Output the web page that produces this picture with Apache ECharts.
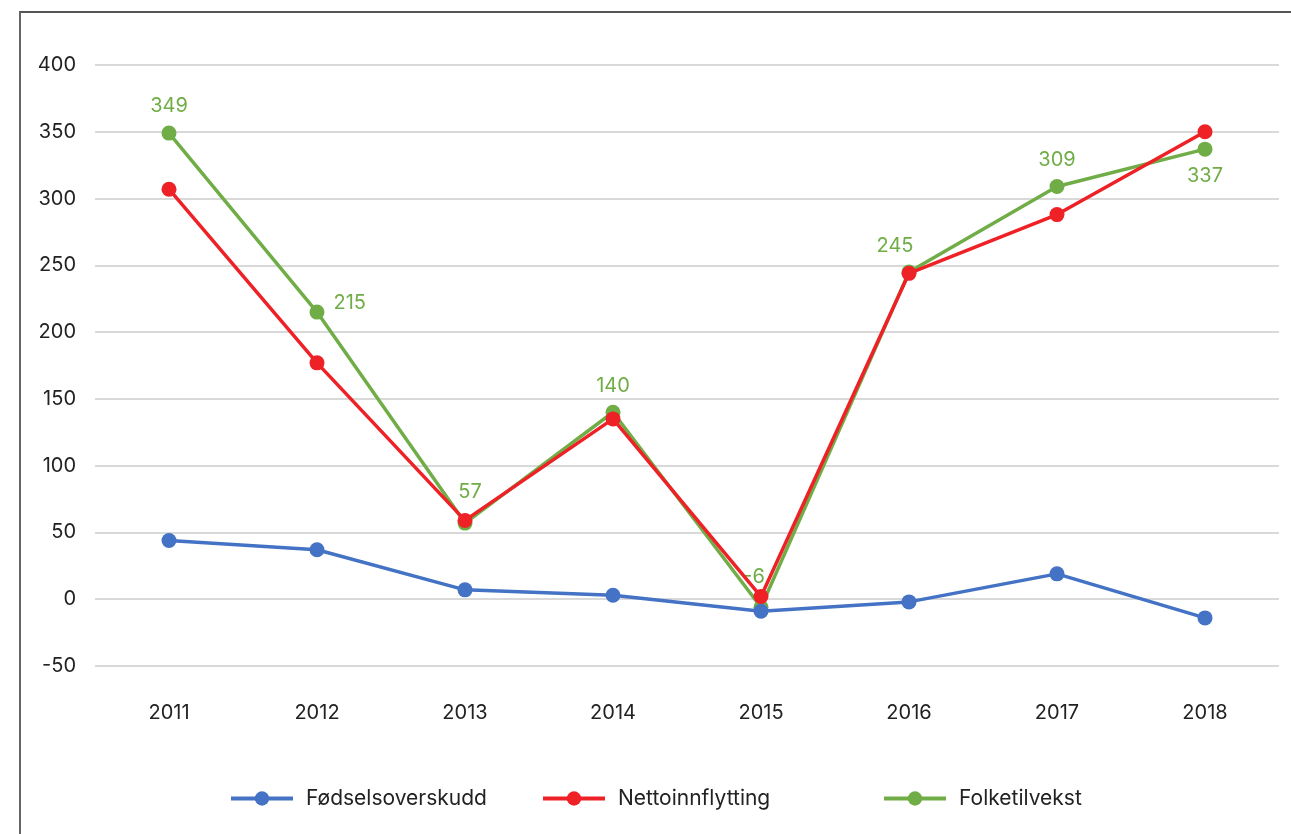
<!DOCTYPE html>
<html>
<head>
<meta charset="utf-8">
<script src="https://cdn.jsdelivr.net/npm/echarts@6/dist/echarts.min.js"></script>
<style>
  html, body { margin: 0; padding: 0; background: #fff; overflow: hidden; }
  #frame { position: absolute; left: 19px; top: 11px; width: 1400px; height: 900px;
           border-top: 2px solid #555; border-left: 2px solid #666; }
  #chart { position: absolute; left: 0; top: 0; width: 1291px; height: 834px; }
</style>
</head>
<body>
<div id="frame"></div>
<div id="chart"></div>
<script>
var years = ['2011', '2012', '2013', '2014', '2015', '2016', '2017', '2018'];
var fodsel = [44, 37, 7, 3, -9, -2, 19, -14];
var netto = [307, 177, 59, 135, 2, 244, 288, 350];
var folke = [349, 215, 57, 140, -6, 245, 309, 337];
var labelPos = ['top', 'right', 'top', 'top', 'top', 'top', 'top', 'bottom'];
var labelShift = [[0, -1], [0, -9], [5, -5], [0, 0], [-7, -4], [-14, 0], [0, 0], [0, 0]];

var font = 'Inter';
var blue = '#4472C4', red = '#EE2127', green = '#70AD47';

var chart = echarts.init(document.getElementById('chart'));

var folkeData = folke.map(function (v, i) {
    return { value: v, label: { position: labelPos[i], offset: labelShift[i] } };
});

function legendFor(name, left) {
    return {
        data: [name],
        left: left,
        top: 788,
        padding: 0,
        itemWidth: 62,
        itemHeight: 18,
        lineStyle: { width: 4 },
        textStyle: { fontFamily: font, fontSize: 21, color: '#222', padding: [0, 0, 0, 8] }
    };
}

chart.setOption({
    animation: false,
    grid: { left: 95, right: 12, top: 65, bottom: 168 },
    legend: [
        legendFor('Fødselsoverskudd', 229),
        legendFor('Nettoinnflytting', 541),
        legendFor('Folketilvekst', 882)
    ],
    xAxis: {
        type: 'category',
        data: years,
        axisLine: { show: false },
        axisTick: { show: false },
        axisLabel: { fontFamily: font, fontSize: 20, color: '#222', margin: 37 }
    },
    yAxis: {
        type: 'value',
        min: -50,
        max: 400,
        interval: 50,
        axisLine: { show: false },
        axisTick: { show: false },
        axisLabel: { fontFamily: font, fontSize: 20, color: '#222', margin: 19 },
        splitLine: { lineStyle: { color: '#d9d9d9', width: 2 } }
    },
    series: [
        {
            name: 'Fødselsoverskudd', type: 'line', data: fodsel,
            symbol: 'circle', symbolSize: 15, z: 3,
            itemStyle: { color: blue }, lineStyle: { color: blue, width: 3.5 }
        },
        {
            name: 'Nettoinnflytting', type: 'line', data: netto,
            symbol: 'circle', symbolSize: 15, z: 4,
            itemStyle: { color: red }, lineStyle: { color: red, width: 3.5 }
        },
        {
            name: 'Folketilvekst', type: 'line', data: folkeData,
            symbol: 'circle', symbolSize: 15, z: 2,
            itemStyle: { color: green }, lineStyle: { color: green, width: 3.5 },
            label: {
                show: true, fontFamily: font, fontSize: 20, color: green, distance: 9
            }
        }
    ]
});
</script>
</body>
</html>
